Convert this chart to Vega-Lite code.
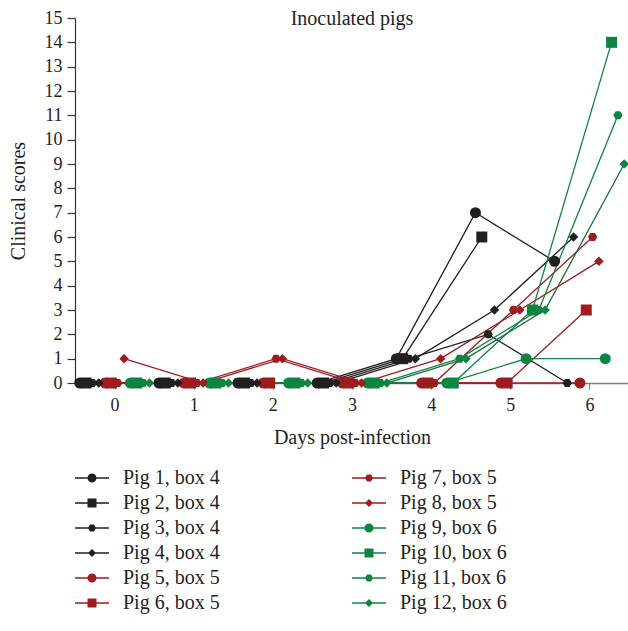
{
  "$schema": "https://vega.github.io/schema/vega-lite/v6.json",
  "width": 554,
  "height": 365,
  "autosize": {"type": "none"},
  "padding": {"left": 75, "top": 18, "right": 0, "bottom": 248},
  "background": "white",
  "title": {"text": "Inoculated pigs", "font": "Liberation Serif", "fontSize": 20, "fontWeight": "normal", "color": "#231f20", "anchor": "middle", "frame": "group", "offset": -20},
  "config": {
    "view": {"stroke": null},
    "axis": {"grid": false, "labelFont": "Liberation Serif", "titleFont": "Liberation Serif", "labelColor": "#231f20", "titleColor": "#231f20", "titleFontWeight": "normal", "labelFontSize": 18, "titleFontSize": 20},
    "legend": {"labelFont": "Liberation Serif", "labelFontSize": 20, "labelColor": "#231f20"}
  },
  "data": {"values": [
    {"pig": "Pig 1, box 4", "day": -0.44, "score": 0},
    {"pig": "Pig 1, box 4", "day": 0.56, "score": 0},
    {"pig": "Pig 1, box 4", "day": 1.56, "score": 0},
    {"pig": "Pig 1, box 4", "day": 2.56, "score": 0},
    {"pig": "Pig 1, box 4", "day": 3.56, "score": 1},
    {"pig": "Pig 1, box 4", "day": 4.56, "score": 7},
    {"pig": "Pig 1, box 4", "day": 5.56, "score": 5},
    {"pig": "Pig 2, box 4", "day": -0.36, "score": 0},
    {"pig": "Pig 2, box 4", "day": 0.64, "score": 0},
    {"pig": "Pig 2, box 4", "day": 1.64, "score": 0},
    {"pig": "Pig 2, box 4", "day": 2.64, "score": 0},
    {"pig": "Pig 2, box 4", "day": 3.64, "score": 1},
    {"pig": "Pig 2, box 4", "day": 4.64, "score": 6},
    {"pig": "Pig 3, box 4", "day": -0.28, "score": 0},
    {"pig": "Pig 3, box 4", "day": 0.72, "score": 0},
    {"pig": "Pig 3, box 4", "day": 1.72, "score": 0},
    {"pig": "Pig 3, box 4", "day": 2.72, "score": 0},
    {"pig": "Pig 3, box 4", "day": 3.72, "score": 1},
    {"pig": "Pig 3, box 4", "day": 4.72, "score": 2},
    {"pig": "Pig 3, box 4", "day": 5.72, "score": 0},
    {"pig": "Pig 4, box 4", "day": -0.2, "score": 0},
    {"pig": "Pig 4, box 4", "day": 0.8, "score": 0},
    {"pig": "Pig 4, box 4", "day": 1.8, "score": 0},
    {"pig": "Pig 4, box 4", "day": 2.8, "score": 0},
    {"pig": "Pig 4, box 4", "day": 3.8, "score": 1},
    {"pig": "Pig 4, box 4", "day": 4.8, "score": 3},
    {"pig": "Pig 4, box 4", "day": 5.8, "score": 6},
    {"pig": "Pig 5, box 5", "day": -0.12, "score": 0},
    {"pig": "Pig 5, box 5", "day": 0.88, "score": 0},
    {"pig": "Pig 5, box 5", "day": 1.88, "score": 0},
    {"pig": "Pig 5, box 5", "day": 2.88, "score": 0},
    {"pig": "Pig 5, box 5", "day": 3.88, "score": 0},
    {"pig": "Pig 5, box 5", "day": 4.88, "score": 0},
    {"pig": "Pig 5, box 5", "day": 5.88, "score": 0},
    {"pig": "Pig 6, box 5", "day": -0.04, "score": 0},
    {"pig": "Pig 6, box 5", "day": 0.96, "score": 0},
    {"pig": "Pig 6, box 5", "day": 1.96, "score": 0},
    {"pig": "Pig 6, box 5", "day": 2.96, "score": 0},
    {"pig": "Pig 6, box 5", "day": 3.96, "score": 0},
    {"pig": "Pig 6, box 5", "day": 4.96, "score": 0},
    {"pig": "Pig 6, box 5", "day": 5.96, "score": 3},
    {"pig": "Pig 7, box 5", "day": 0.04, "score": 0},
    {"pig": "Pig 7, box 5", "day": 1.04, "score": 0},
    {"pig": "Pig 7, box 5", "day": 2.04, "score": 1},
    {"pig": "Pig 7, box 5", "day": 3.04, "score": 0},
    {"pig": "Pig 7, box 5", "day": 4.04, "score": 0},
    {"pig": "Pig 7, box 5", "day": 5.04, "score": 3},
    {"pig": "Pig 7, box 5", "day": 6.04, "score": 6},
    {"pig": "Pig 8, box 5", "day": 0.12, "score": 1},
    {"pig": "Pig 8, box 5", "day": 1.12, "score": 0},
    {"pig": "Pig 8, box 5", "day": 2.12, "score": 1},
    {"pig": "Pig 8, box 5", "day": 3.12, "score": 0},
    {"pig": "Pig 8, box 5", "day": 4.12, "score": 1},
    {"pig": "Pig 8, box 5", "day": 5.12, "score": 3},
    {"pig": "Pig 8, box 5", "day": 6.12, "score": 5},
    {"pig": "Pig 9, box 6", "day": 0.2, "score": 0},
    {"pig": "Pig 9, box 6", "day": 1.2, "score": 0},
    {"pig": "Pig 9, box 6", "day": 2.2, "score": 0},
    {"pig": "Pig 9, box 6", "day": 3.2, "score": 0},
    {"pig": "Pig 9, box 6", "day": 4.2, "score": 0},
    {"pig": "Pig 9, box 6", "day": 5.2, "score": 1},
    {"pig": "Pig 9, box 6", "day": 6.2, "score": 1},
    {"pig": "Pig 10, box 6", "day": 0.28, "score": 0},
    {"pig": "Pig 10, box 6", "day": 1.28, "score": 0},
    {"pig": "Pig 10, box 6", "day": 2.28, "score": 0},
    {"pig": "Pig 10, box 6", "day": 3.28, "score": 0},
    {"pig": "Pig 10, box 6", "day": 4.28, "score": 0},
    {"pig": "Pig 10, box 6", "day": 5.28, "score": 3},
    {"pig": "Pig 10, box 6", "day": 6.28, "score": 14},
    {"pig": "Pig 11, box 6", "day": 0.36, "score": 0},
    {"pig": "Pig 11, box 6", "day": 1.36, "score": 0},
    {"pig": "Pig 11, box 6", "day": 2.36, "score": 0},
    {"pig": "Pig 11, box 6", "day": 3.36, "score": 0},
    {"pig": "Pig 11, box 6", "day": 4.36, "score": 1},
    {"pig": "Pig 11, box 6", "day": 5.36, "score": 3},
    {"pig": "Pig 11, box 6", "day": 6.36, "score": 11},
    {"pig": "Pig 12, box 6", "day": 0.44, "score": 0},
    {"pig": "Pig 12, box 6", "day": 1.44, "score": 0},
    {"pig": "Pig 12, box 6", "day": 2.44, "score": 0},
    {"pig": "Pig 12, box 6", "day": 3.44, "score": 0},
    {"pig": "Pig 12, box 6", "day": 4.44, "score": 1},
    {"pig": "Pig 12, box 6", "day": 5.44, "score": 3},
    {"pig": "Pig 12, box 6", "day": 6.44, "score": 9}
  ]},
  "encoding": {
    "x": {"field": "day", "type": "quantitative", "scale": {"domain": [-0.5, 6.5], "nice": false, "zero": false},
      "axis": {"values": [0, 1, 2, 3, 4, 5, 6], "title": "Days post-infection", "domainColor": "#808080", "domainWidth": 1.5, "tickColor": "#808080", "tickWidth": 1.2, "tickSize": 6, "labelPadding": 7, "titlePadding": 13}},
    "y": {"field": "score", "type": "quantitative", "scale": {"domain": [0, 15], "nice": false},
      "axis": {"values": [0,1,2,3,4,5,6,7,8,9,10,11,12,13,14,15], "title": "Clinical scores", "domainColor": "#333333", "domainWidth": 1.2, "tickColor": "#333333", "tickWidth": 1.2, "tickSize": 8, "labelPadding": 5, "titlePadding": 16}}
  },
  "layer": [
    {
      "mark": {"type": "line", "strokeWidth": 1.3},
      "encoding": {
        "stroke": {"field": "pig", "type": "nominal", "legend": null,
          "scale": {"domain": ["Pig 12, box 6","Pig 11, box 6","Pig 10, box 6","Pig 9, box 6","Pig 8, box 5","Pig 7, box 5","Pig 6, box 5","Pig 5, box 5","Pig 4, box 4","Pig 3, box 4","Pig 2, box 4","Pig 1, box 4"],
            "range": ["#1a6e3a","#0e8442","#0e8442","#0e8442","#9d1c20","#9d1c20","#9d1c20","#9d1c20","#231f20","#231f20","#231f20","#231f20"]}}
      }
    },
    {
      "transform": [{"filter": {"field": "pig", "oneOf": ["Pig 1, box 4", "Pig 5, box 5", "Pig 9, box 6"]}}],
      "mark": {"type": "point", "filled": true, "shape": "circle", "size": 121, "opacity": 1, "strokeWidth": 0},
      "encoding": {
        "fill": {"field": "pig", "type": "nominal", "legend": null,
          "scale": {"domain": ["Pig 12, box 6","Pig 11, box 6","Pig 10, box 6","Pig 9, box 6","Pig 8, box 5","Pig 7, box 5","Pig 6, box 5","Pig 5, box 5","Pig 4, box 4","Pig 3, box 4","Pig 2, box 4","Pig 1, box 4"],
            "range": ["#0e8442","#0e8442","#0e8442","#0e8442","#9d1c20","#9d1c20","#9d1c20","#9d1c20","#231f20","#231f20","#231f20","#231f20"]}}
      }
    },
    {
      "transform": [{"filter": {"field": "pig", "oneOf": ["Pig 2, box 4", "Pig 6, box 5", "Pig 10, box 6"]}}],
      "mark": {"type": "point", "filled": true, "shape": "square", "size": 121, "opacity": 1, "strokeWidth": 0},
      "encoding": {
        "fill": {"field": "pig", "type": "nominal", "legend": null,
          "scale": {"domain": ["Pig 12, box 6","Pig 11, box 6","Pig 10, box 6","Pig 9, box 6","Pig 8, box 5","Pig 7, box 5","Pig 6, box 5","Pig 5, box 5","Pig 4, box 4","Pig 3, box 4","Pig 2, box 4","Pig 1, box 4"],
            "range": ["#0e8442","#0e8442","#0e8442","#0e8442","#9d1c20","#9d1c20","#9d1c20","#9d1c20","#231f20","#231f20","#231f20","#231f20"]}}
      }
    },
    {
      "transform": [{"filter": {"field": "pig", "oneOf": ["Pig 3, box 4", "Pig 7, box 5", "Pig 11, box 6"]}}],
      "mark": {"type": "point", "filled": true, "shape": "M1,0L0.5,0.866L-0.5,0.866L-1,0L-0.5,-0.866L0.5,-0.866Z", "size": 85, "opacity": 1, "strokeWidth": 0},
      "encoding": {
        "fill": {"field": "pig", "type": "nominal", "legend": null,
          "scale": {"domain": ["Pig 12, box 6","Pig 11, box 6","Pig 10, box 6","Pig 9, box 6","Pig 8, box 5","Pig 7, box 5","Pig 6, box 5","Pig 5, box 5","Pig 4, box 4","Pig 3, box 4","Pig 2, box 4","Pig 1, box 4"],
            "range": ["#0e8442","#0e8442","#0e8442","#0e8442","#9d1c20","#9d1c20","#9d1c20","#9d1c20","#231f20","#231f20","#231f20","#231f20"]}}
      }
    },
    {
      "transform": [{"filter": {"field": "pig", "oneOf": ["Pig 4, box 4", "Pig 8, box 5", "Pig 12, box 6"]}}],
      "mark": {"type": "point", "filled": true, "shape": "diamond", "size": 90, "opacity": 1, "strokeWidth": 0},
      "encoding": {
        "fill": {"field": "pig", "type": "nominal", "legend": null,
          "scale": {"domain": ["Pig 12, box 6","Pig 11, box 6","Pig 10, box 6","Pig 9, box 6","Pig 8, box 5","Pig 7, box 5","Pig 6, box 5","Pig 5, box 5","Pig 4, box 4","Pig 3, box 4","Pig 2, box 4","Pig 1, box 4"],
            "range": ["#0e8442","#0e8442","#0e8442","#0e8442","#9d1c20","#9d1c20","#9d1c20","#9d1c20","#231f20","#231f20","#231f20","#231f20"]}}
      }
    },
    {
      "transform": [{"filter": "false"}],
      "mark": {"type": "point", "filled": true, "opacity": 1, "strokeWidth": 0},
      "encoding": {
        "color": {"field": "pig", "type": "nominal",
          "scale": {"domain": ["Pig 1, box 4","Pig 2, box 4","Pig 3, box 4","Pig 4, box 4","Pig 5, box 5","Pig 6, box 5","Pig 7, box 5","Pig 8, box 5","Pig 9, box 6","Pig 10, box 6","Pig 11, box 6","Pig 12, box 6"],
            "range": ["#231f20","#231f20","#231f20","#231f20","#9d1c20","#9d1c20","#9d1c20","#9d1c20","#0e8442","#0e8442","#0e8442","#0e8442"]},
          "legend": {"title": null, "orient": "none", "legendX": 7, "legendY": 450, "columns": 2, "columnPadding": 132, "rowPadding": 5, "symbolSize": 400, "labelOffset": 21, "padding": 0, "symbolStrokeWidth": 0}},
        "shape": {"field": "pig", "type": "nominal",
          "scale": {"domain": ["Pig 1, box 4","Pig 2, box 4","Pig 3, box 4","Pig 4, box 4","Pig 5, box 5","Pig 6, box 5","Pig 7, box 5","Pig 8, box 5","Pig 9, box 6","Pig 10, box 6","Pig 11, box 6","Pig 12, box 6"],
            "range": [
              "M-1.7,-0.065H1.7V0.065H-1.7ZM0.45,0A0.45,0.45,0,1,1,-0.45,0A0.45,0.45,0,1,1,0.45,0Z",
              "M-1.7,-0.065H1.7V0.065H-1.7ZM-0.45,-0.45H0.45V0.45H-0.45Z",
              "M-1.7,-0.065H1.7V0.065H-1.7ZM0.4,0L0.2,0.346L-0.2,0.346L-0.4,0L-0.2,-0.346L0.2,-0.346Z",
              "M-1.7,-0.065H1.7V0.065H-1.7ZM0,-0.4L0.4,0L0,0.4L-0.4,0Z",
              "M-1.7,-0.065H1.7V0.065H-1.7ZM0.45,0A0.45,0.45,0,1,1,-0.45,0A0.45,0.45,0,1,1,0.45,0Z",
              "M-1.7,-0.065H1.7V0.065H-1.7ZM-0.45,-0.45H0.45V0.45H-0.45Z",
              "M-1.7,-0.065H1.7V0.065H-1.7ZM0.4,0L0.2,0.346L-0.2,0.346L-0.4,0L-0.2,-0.346L0.2,-0.346Z",
              "M-1.7,-0.065H1.7V0.065H-1.7ZM0,-0.4L0.4,0L0,0.4L-0.4,0Z",
              "M-1.7,-0.065H1.7V0.065H-1.7ZM0.45,0A0.45,0.45,0,1,1,-0.45,0A0.45,0.45,0,1,1,0.45,0Z",
              "M-1.7,-0.065H1.7V0.065H-1.7ZM-0.45,-0.45H0.45V0.45H-0.45Z",
              "M-1.7,-0.065H1.7V0.065H-1.7ZM0.4,0L0.2,0.346L-0.2,0.346L-0.4,0L-0.2,-0.346L0.2,-0.346Z",
              "M-1.7,-0.065H1.7V0.065H-1.7ZM0,-0.4L0.4,0L0,0.4L-0.4,0Z"
            ]}}
      }
    }
  ]
}
